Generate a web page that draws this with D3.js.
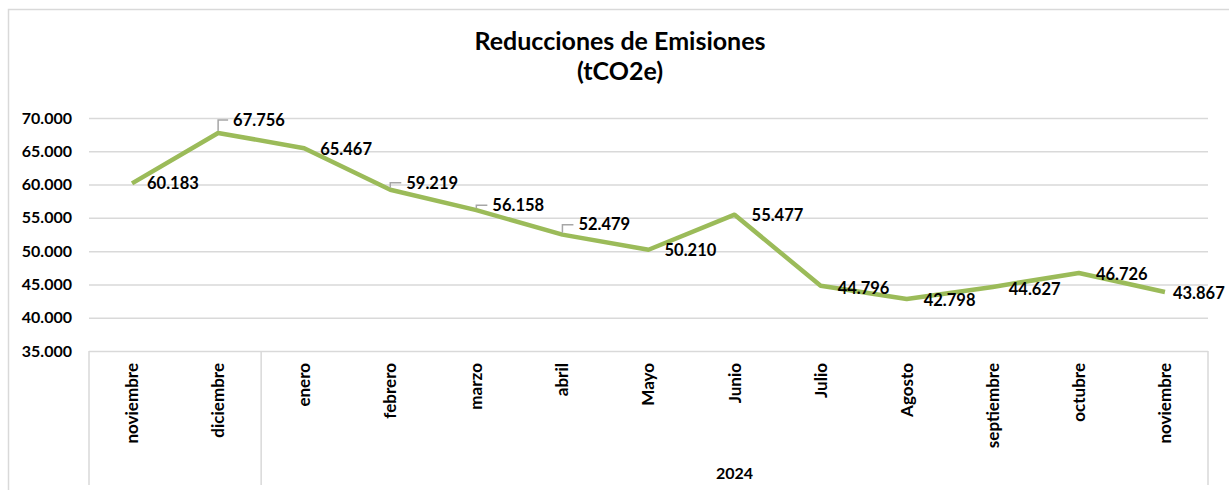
<!DOCTYPE html>
<html>
<head>
<meta charset="utf-8">
<script src="https://cdn.jsdelivr.net/npm/d3@7"></script>
<style>
  html, body { margin: 0; padding: 0; background: #fff; }
  svg { display: block; }
  text { font-family: Lato, "Open Sans", sans-serif; font-weight: bold; fill: #000; }
</style>
</head>
<body>
<svg id="chart" width="1229" height="490"></svg>
<script>
// ---- data ----
const categories = ["noviembre", "diciembre", "enero", "febrero", "marzo", "abril", "Mayo",
                    "Junio", "Julio", "Agosto", "septiembre", "octubre", "noviembre"];
const values = [60183, 67756, 65467, 59219, 56158, 52479, 50210, 55477, 44796, 42798, 44627, 46726, 43867];
const yTicks = [35000, 40000, 45000, 50000, 55000, 60000, 65000, 70000];
const groups = [{ label: "", start: 0, end: 2 }, { label: "2024", start: 2, end: 13 }];
const titleLines = ["Reducciones de Emisiones", "(tCO2e)"];
// label placement: [dx, dy, leader]
const labelOffsets = [
  [15, 0, false], [15, -13, true], [16, 1, false], [16, -7, true], [16, -5, true], [16, -10, true],
  [16, 0, false], [17, 1, false], [17, 2, false], [17, 1, false], [16, 2, false], [17, 1, false], [8, 1, false]
];

// ---- layout ----
const svg = d3.select("#chart");
const plot = { left: 89, right: 1208, top: 118, bottom: 351 };
const gridColor = "#d9d9d9";
const lineColor = "#9bbb59";

const locale = d3.formatLocale({ decimal: ",", thousands: ".", grouping: [3], currency: ["", ""] });
const fmt = locale.format(",d");

// outer chart border (left + top visible)
svg.append("path")
  .attr("d", `M8.5,490 V9.5 H1229`)
  .attr("fill", "none").attr("stroke", gridColor).attr("stroke-width", 1.5);

const x = d3.scaleBand().domain(d3.range(categories.length)).range([plot.left, plot.right]);
const y = d3.scaleLinear().domain([35000, 70000]).range([plot.bottom, plot.top]);

// gridlines + y labels
const gAxis = svg.append("g").attr("transform", `translate(${plot.left},0)`);
gAxis.call(d3.axisLeft(y).tickValues(yTicks).tickFormat(fmt).tickSize(-(plot.right - plot.left)).tickPadding(17));
gAxis.select(".domain").remove();
gAxis.selectAll(".tick line").attr("stroke", gridColor).attr("stroke-width", 1.5);
gAxis.selectAll(".tick text").style("font-size", "16px").style("font-family", "Lato, sans-serif")
  .style("font-weight", "bold").attr("fill", "#000");

// multi-level category axis separators
const sepBottom = 485;
svg.append("g").selectAll("line").data([plot.left, x(groups[1].start), plot.right]).join("line")
  .attr("x1", d => d).attr("x2", d => d)
  .attr("y1", plot.bottom).attr("y2", sepBottom)
  .attr("stroke", gridColor).attr("stroke-width", 1.5);

// category labels
svg.append("g").selectAll("text").data(categories).join("text")
  .attr("transform", (d, i) => `translate(${x(i) + x.bandwidth() / 2},363) rotate(-90)`)
  .attr("text-anchor", "end").attr("dy", "0.35em")
  .style("font-size", "17px")
  .text(d => d);

// group labels
svg.append("g").selectAll("text").data(groups.filter(g => g.label)).join("text")
  .attr("x", g => (x(g.start) + x(g.end - 1) + x.bandwidth()) / 2)
  .attr("y", 473).attr("dy", "0.35em")
  .attr("text-anchor", "middle").style("font-size", "16px")
  .text(g => g.label);

// line
const cx = i => x(i) + x.bandwidth() / 2;
svg.append("path").datum(values)
  .attr("d", d3.line().x((d, i) => cx(i)).y(d => y(d)))
  .attr("fill", "none").attr("stroke", lineColor).attr("stroke-width", 4.5).attr("stroke-linejoin", "round");

// leader lines
svg.append("g").selectAll("path").data(values.map((v, i) => ({ v, i })).filter(d => labelOffsets[d.i][2])).join("path")
  .attr("d", d => {
    const px = cx(d.i), py = y(d.v);
    const ty = py + labelOffsets[d.i][1];
    return `M${px},${py - 2} V${ty} H${px + labelOffsets[d.i][0] - 5}`;
  })
  .attr("fill", "none").attr("stroke", "#a6a6a6").attr("stroke-width", 1.5);

// data labels
svg.append("g").selectAll("text").data(values).join("text")
  .attr("x", (d, i) => cx(i) + labelOffsets[i][0])
  .attr("y", (d, i) => y(d) + labelOffsets[i][1])
  .attr("dy", "0.35em")
  .style("font-size", "16.5px")
  .text(d => fmt(d));

// title
svg.append("text").attr("x", 620).attr("y", 50).attr("text-anchor", "middle")
  .style("font-size", "25px").text(titleLines[0]);
svg.append("text").attr("x", 620).attr("y", 80).attr("text-anchor", "middle")
  .style("font-size", "25px").text(titleLines[1]);
</script>
</body>
</html>
